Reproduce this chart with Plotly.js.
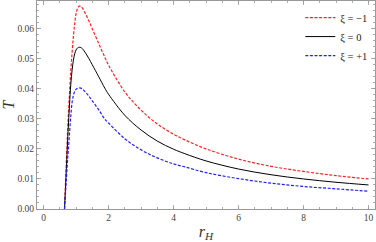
<!DOCTYPE html>
<html>
<head>
<meta charset="utf-8">
<script src="https://cdn.plot.ly/plotly-3.0.1.min.js"></script>
<style>html,body{margin:0;padding:0;background:#fff}#chart{width:376px;height:242px}</style>
</head>
<body>
<div id="chart"></div>
<script>
const rH = [0.646,0.68,0.70,0.73,0.76,0.80,0.84,0.88,0.92,0.96,1.00,1.05,1.10,1.15,1.20,1.30,1.40,1.50,1.70,1.886,2.0,2.5,3.0,3.5,4.0,4.35,5,6,7,8,9,10];
const T_minus1 = [0,0.0095,0.0150,0.0230,0.0305,0.0385,0.0460,0.0520,0.0575,0.0617,0.0648,0.0668,0.0675,0.0674,0.0668,0.0648,0.0625,0.0600,0.0550,0.0505,0.0479,0.0390,0.0329,0.0283,0.0249,0.0230,0.0200,0.0166,0.0142,0.0125,0.0111,0.0100];
const T_zero = [0,0.0078,0.0125,0.0197,0.0265,0.0345,0.0415,0.0462,0.0495,0.0516,0.0529,0.0536,0.0538,0.0537,0.0533,0.0518,0.0500,0.0480,0.0440,0.0402,0.0382,0.0312,0.0263,0.0226,0.0199,0.0184,0.0160,0.0133,0.0114,0.0100,0.0089,0.0080];
const T_plus1 = [0,0.0058,0.0092,0.0145,0.0190,0.0250,0.0310,0.0355,0.0378,0.0391,0.0398,0.0402,0.0403,0.0402,0.0399,0.0388,0.0375,0.0360,0.0330,0.0299,0.0286,0.0234,0.0197,0.0170,0.0150,0.0140,0.0121,0.0101,0.0086,0.0075,0.0067,0.0059];
const names = ['\u03BE = \u22121','\u03BE = 0','\u03BE = +1'];
const xTicks = [0,2,4,6,8,10];
const yTicks = [0,0.01,0.02,0.03,0.04,0.05,0.06];
const yTickText = ['0.00','0.01','0.02','0.03','0.04','0.05','0.06'];

const serif = 'Liberation Serif, Times New Roman, serif';
const traces = [
  {x:rH, y:T_minus1, name:names[0], mode:'lines', line:{color:'#ff2020', width:1.2, dash:'3px,1.6px', shape:'spline'}},
  {x:rH, y:T_zero, name:names[1], mode:'lines', line:{color:'#000000', width:1, shape:'spline'}},
  {x:rH, y:T_plus1, name:names[2], mode:'lines', line:{color:'#2020ff', width:1.2, dash:'3px,1.6px', shape:'spline'}}
];
const axisCommon = {
  showgrid:false, zeroline:false, showline:true, linecolor:'#999', linewidth:1, mirror:'ticks',
  ticks:'inside', ticklen:4, tickcolor:'#999', tickwidth:0.8,
  tickfont:{family:serif, size:9.5, color:'#444'}
};
const layout = {
  width:376, height:242,
  margin:{l:37, r:1, t:1, b:33},
  paper_bgcolor:'#fff', plot_bgcolor:'#fff',
  showlegend:true,
  legend:{x:0.995, y:0.99, xanchor:'right', yanchor:'top', bgcolor:'rgba(255,255,255,0)', font:{family:serif, size:10.5, color:'#222'}, tracegroupgap:0},
  xaxis:Object.assign({}, axisCommon, {
    range:[-0.2,10.2], tickmode:'array', tickvals:xTicks, ticktext:xTicks.map(String),
    minor:{ticks:'inside', ticklen:2, tickcolor:'#999', dtick:0.5, tick0:0},
    title:{text:'<i>r</i><sub><i>H</i></sub>', font:{family:serif, size:16, color:'#333'}, standoff:4}
  }),
  yaxis:Object.assign({}, axisCommon, {
    range:[0,0.0692], tickmode:'array', tickvals:yTicks, ticktext:yTickText,
    minor:{ticks:'inside', ticklen:2, tickcolor:'#999', dtick:0.002, tick0:0},
    title:{text:'<i>T</i>', font:{family:serif, size:16, color:'#333'}, standoff:4}
  })
};
Plotly.newPlot('chart', traces, layout, {displayModeBar:false, staticPlot:true});
</script>
</body>
</html>
